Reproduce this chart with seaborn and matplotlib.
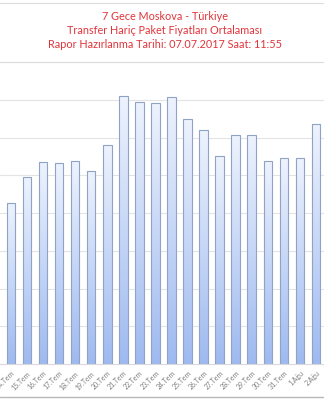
import numpy as np
import pandas as pd
import matplotlib
matplotlib.use("Agg")
import matplotlib.pyplot as plt
from matplotlib.colors import LinearSegmentedColormap
from matplotlib.patches import Rectangle
from matplotlib.lines import Line2D
import seaborn as sns

# ---- data ----
days = ["14.Tem", "15.Tem", "16.Tem", "17.Tem", "18.Tem", "19.Tem", "20.Tem",
        "21.Tem", "22.Tem", "23.Tem", "24.Tem", "25.Tem", "26.Tem", "27.Tem",
        "28.Tem", "29.Tem", "30.Tem", "31.Tem", "1.Ağu", "2.Ağu"]
prices = [854, 992, 1072, 1066, 1077, 1024, 1162, 1420, 1392, 1385, 1418,
          1300, 1241, 1103, 1215, 1215, 1077, 1093, 1093, 1273]
title_lines = ["7 Gece Moskova - Türkiye",
               "Transfer Hariç Paket Fiyatları Ortalaması",
               "Rapor Hazırlanma Tarihi: 07.07.2017 Saat: 11:55"]
grid_ticks = [0, 200, 400, 600, 800, 1000, 1200, 1400, 1600]

df = pd.DataFrame({"day": days, "price": prices})

sns.set_theme(style="white")
plt.rcParams["font.family"] = ["Lato", "DejaVu Sans"]

fig = plt.figure(figsize=(3.24, 4.0), dpi=100)
fig.patch.set_facecolor("white")
ax = fig.add_axes([0.0, 0.09, 1.0, 0.755])

sns.barplot(data=df, x="day", y="price", color="#b9cdf3", width=0.53,
            edgecolor="#8ea3c6", linewidth=0.8, ax=ax, zorder=3)

# gradient fill inside each bar
cmap = LinearSegmentedColormap.from_list("g", ["#9fbaf0", "#eef3fd"])
grad = np.linspace(0, 1, 256).reshape(-1, 1)
for p in ax.patches:
    x0, y0 = p.get_x(), p.get_y()
    w, h = p.get_width(), p.get_height()
    im = ax.imshow(grad, cmap=cmap, origin="lower", aspect="auto",
                   extent=[x0, x0 + w, y0, y0 + h], zorder=2.5,
                   interpolation="bilinear")
    im.set_clip_path(p)
    p.set_facecolor("none")

ax.set_xlim(-0.68, 19.34)
ax.set_ylim(0, 1602)
ax.set_yticks(grid_ticks)
ax.set_yticklabels([])
ax.grid(axis="y", color="#e3e3e3", linewidth=0.8, zorder=0)
ax.set_xlabel("")
ax.set_ylabel("")
for s in ["left", "right", "top"]:
    ax.spines[s].set_visible(False)
ax.spines["bottom"].set_color("#d9d9d9")
ax.spines["bottom"].set_linewidth(0.8)

ax.set_xticks(range(len(days)))
ax.set_xticklabels(days, rotation=45, ha="right", rotation_mode="anchor",
                   fontsize=5.0, color="#808080")
ax.tick_params(axis="x", length=0, pad=4)
ax.tick_params(axis="y", length=0)
ax.set_xticks(np.arange(-0.5, len(days), 1), minor=True)
ax.tick_params(axis="x", which="minor", length=2, color="#f0c8d4", width=0.8)

# title box
fig.add_artist(Rectangle((-0.01, 1 - 62 / 400), 1.02, (62 - 3) / 400,
                         transform=fig.transFigure, facecolor="white",
                         edgecolor="#dcdcdc", linewidth=0.8))
ys = [16, 30.5, 44]
for t, yp in zip(title_lines, ys):
    fig.text(0.508, 1 - yp / 400, t, ha="center", va="center",
             fontsize=7.8, color="#e0353b")

# bottom border
fig.add_artist(Line2D([0, 1], [1 - 397 / 400] * 2, transform=fig.transFigure,
                      color="#b8b8b8", linewidth=1.0))

fig.savefig("out.png", dpi=100, facecolor="white")
